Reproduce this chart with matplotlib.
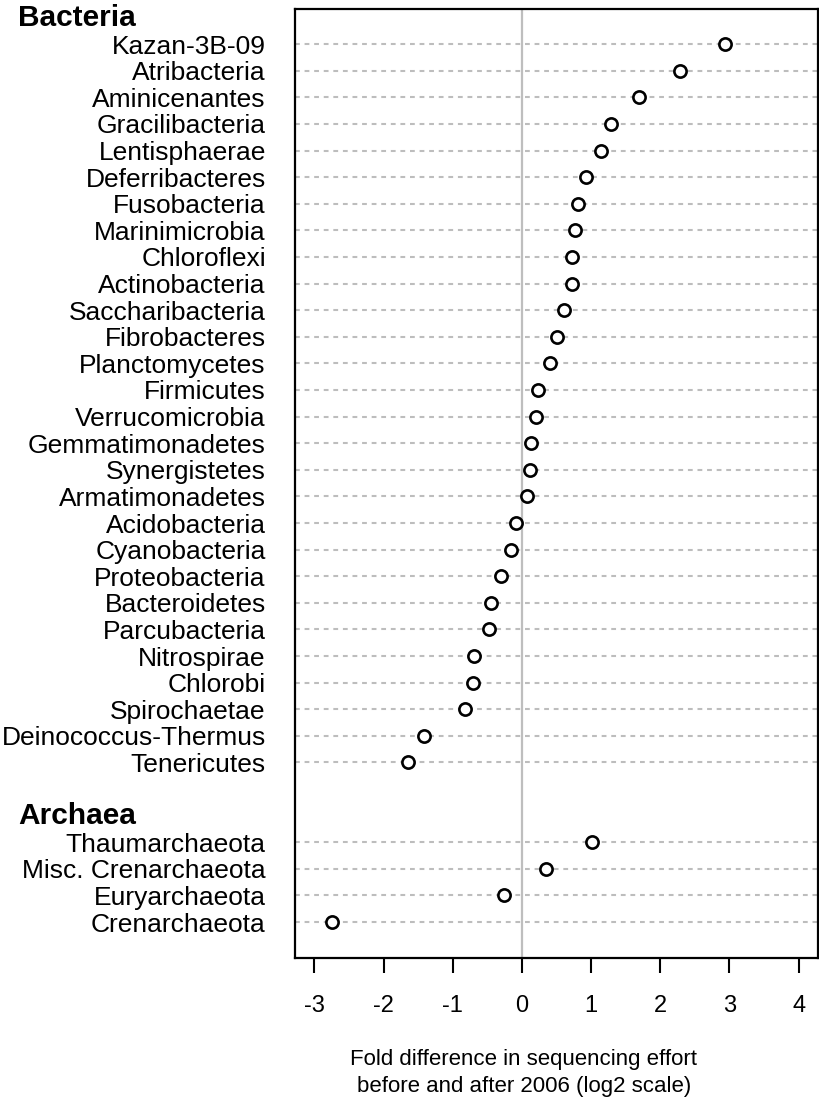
# dotchart: fold difference in sequencing effort, bacteria + archaea
import matplotlib
matplotlib.use("Agg")
import matplotlib.pyplot as plt
import matplotlib.transforms as mtransforms

plt.rcParams['font.family'] = ['Liberation Sans', 'DejaVu Sans']

bacteria = ["Kazan-3B-09", "Atribacteria", "Aminicenantes", "Gracilibacteria",
            "Lentisphaerae", "Deferribacteres", "Fusobacteria", "Marinimicrobia",
            "Chloroflexi", "Actinobacteria", "Saccharibacteria", "Fibrobacteres",
            "Planctomycetes", "Firmicutes", "Verrucomicrobia", "Gemmatimonadetes",
            "Synergistetes", "Armatimonadetes", "Acidobacteria", "Cyanobacteria",
            "Proteobacteria", "Bacteroidetes", "Parcubacteria", "Nitrospirae",
            "Chlorobi", "Spirochaetae", "Deinococcus-Thermus", "Tenericutes"]
bact_vals = [2.93, 2.28, 1.69, 1.29, 1.15, 0.93, 0.81, 0.77, 0.73, 0.72,
             0.61, 0.50, 0.41, 0.23, 0.20, 0.13, 0.11, 0.08, -0.09, -0.16,
             -0.30, -0.45, -0.47, -0.69, -0.71, -0.82, -1.41, -1.65]

archaea = ["Thaumarchaeota", "Misc. Crenarchaeota", "Euryarchaeota", "Crenarchaeota"]
arch_vals = [1.02, 0.35, -0.26, -2.74]

xticks = [-3, -2, -1, 0, 1, 2, 3, 4]

# row positions (counted from the top), group title rows in between
bact_rows = list(range(1, len(bacteria) + 1))
arch_title_row = len(bacteria) + 2
arch_rows = list(range(arch_title_row + 1, arch_title_row + 1 + len(archaea)))

labels = bacteria + archaea
vals = bact_vals + arch_vals
rows = bact_rows + arch_rows

fig = plt.figure(figsize=(8.2, 11), dpi=100)
ax = fig.add_axes([295/820, 1 - 958/1100, (818-295)/820, (958-9)/1100])

ax.set_xlim(-3.28, 4.28)
ax.set_ylim(rows[-1] + 1.35, 1 - 1.32)

# dashed guide lines + zero line
ax.hlines(rows, -3.28, 4.28, colors='#bdbdbd', linewidth=1.5,
          linestyles=(0, (2.3, 2.3)), zorder=1)
ax.axvline(0, color='#bebebe', linewidth=1.6, zorder=1)

ax.plot(vals, rows, 'o', markersize=8.8, markerfacecolor='white',
        markeredgecolor='black', markeredgewidth=1.9, linestyle='none', zorder=3)

ax.set_yticks(rows)
ax.set_yticklabels(labels, fontsize=19)
ax.tick_params(axis='y', length=0, pad=21)

ax.set_xticks(xticks)
ax.set_xticklabels([str(t) for t in xticks], fontsize=17)
ax.tick_params(axis='x', length=11, width=1.5, pad=16, direction='out')

for s in ax.spines.values():
    s.set_linewidth(1.6)

# group titles
trans = mtransforms.blended_transform_factory(fig.transFigure, ax.transData)
ax.text(18/820, 0, "Bacteria", transform=trans, fontsize=21.5, fontweight='bold',
        ha='left', va='center', clip_on=False)
ax.text(18/820, arch_title_row, "Archaea", transform=trans, fontsize=21.5,
        fontweight='bold', ha='left', va='center', clip_on=False)

fig.text(524/820, 1 - 1073/1100,
         "Fold difference in sequencing effort\nbefore and after 2006 (log2 scale)",
         ha='center', va='center', fontsize=16, linespacing=1.33)

fig.savefig("out.png", dpi=100)
